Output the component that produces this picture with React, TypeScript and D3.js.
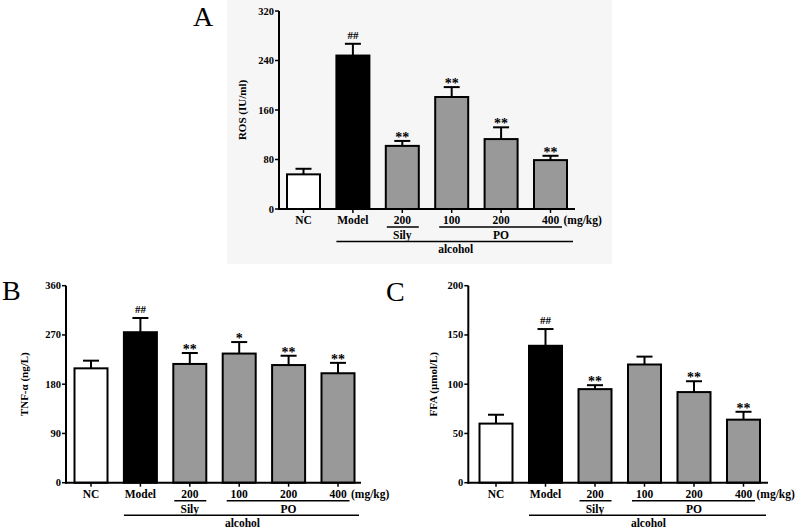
import React from "react";
import * as d3 from "d3";

const categories = ["NC", "Model", "200", "100", "200", "400"];
const fills = ["#ffffff", "#000000", "#999999", "#999999", "#999999", "#999999"];

const rosMean = [56, 248, 102, 181, 113, 79];
const rosErr = [9, 19, 8, 16, 19, 7];
const rosSig = ["", "##", "**", "**", "**", "**"];
const rosTicks = [0, 80, 160, 240, 320];

const tnfMean = [209, 275, 217, 236, 215, 200];
const tnfErr = [14, 26, 20, 21, 17, 19];
const tnfSig = ["", "##", "**", "*", "**", "**"];
const tnfTicks = [0, 90, 180, 270, 360];

const ffaMean = [60, 139, 95, 120, 92, 64];
const ffaErr = [9, 17, 4, 8, 11, 8];
const ffaSig = ["", "##", "**", "", "**", "**"];
const ffaTicks = [0, 50, 100, 150, 200];

const FONT = "'Liberation Serif', 'Times New Roman', serif";

type PanelProps = {
  letter: string;
  letterX: number;
  letterY: number;
  title: string;
  mean: number[];
  err: number[];
  sig: string[];
  ticks: number[];
  axisX: number;
  top: number;
  bottom: number;
  c0: number;
  c1: number;
  xEnd: number;
  titleOffset: number;
};

function Panel(p: PanelProps) {
  const y = d3.scaleLinear().domain([0, p.ticks[p.ticks.length - 1]]).range([p.bottom, p.top]);
  const x = d3.scalePoint<number>().domain(d3.range(categories.length)).range([p.c0, p.c1]);
  const bw = 33;
  const b = p.bottom;
  const cx = (i: number) => x(i) as number;
  const midY = (p.top + p.bottom) / 2;
  return (
    <g fontFamily={FONT}>
      <text x={p.letterX} y={p.letterY} fontSize={28} fill="#000">{p.letter}</text>
      {p.mean.map((m, i) => (
        <g key={i}>
          <line x1={cx(i)} x2={cx(i)} y1={y(m)} y2={y(m + p.err[i])} stroke="#000" strokeWidth={2} />
          <line x1={cx(i) - 8} x2={cx(i) + 8} y1={y(m + p.err[i])} y2={y(m + p.err[i])} stroke="#000" strokeWidth={2} />
          <rect x={cx(i) - bw / 2} y={y(m)} width={bw} height={b - y(m)} fill={fills[i]} stroke="#000" strokeWidth={2} />
          {p.sig[i] && (
            p.sig[i] === "##" ? (
              <text x={cx(i)} y={y(m + p.err[i]) - 5} textAnchor="middle" fontSize={11} fontWeight="bold">{p.sig[i]}</text>
            ) : (
              <text x={cx(i)} y={y(m + p.err[i]) + 1} textAnchor="middle" fontSize={14} fontWeight="bold">{p.sig[i]}</text>
            )
          )}
        </g>
      ))}
      <line x1={p.axisX} x2={p.axisX} y1={p.top} y2={b + 1} stroke="#000" strokeWidth={2} />
      {p.ticks.map((t) => (
        <g key={t}>
          <line x1={p.axisX - 4} x2={p.axisX} y1={y(t)} y2={y(t)} stroke="#000" strokeWidth={1.5} />
          <text x={p.axisX - 5} y={y(t) + 3.5} textAnchor="end" fontSize={10.5} fontWeight="bold">{t}</text>
        </g>
      ))}
      <text transform={`translate(${p.axisX + p.titleOffset},${midY}) rotate(-90)`} textAnchor="middle" fontSize={11} fontWeight="bold">{p.title}</text>
      <line x1={p.axisX - 1} x2={p.xEnd} y1={b} y2={b} stroke="#000" strokeWidth={2} />
      {categories.map((c, i) => (
        <g key={i}>
          <line x1={cx(i)} x2={cx(i)} y1={b} y2={b + 4} stroke="#000" strokeWidth={1.5} />
          <text x={cx(i)} y={b + 15} textAnchor="middle" fontSize={11.5} fontWeight="bold">{c}</text>
        </g>
      ))}
      <text x={cx(5) + 13} y={b + 15} fontSize={11.5} fontWeight="bold">(mg/kg)</text>
      <line x1={cx(2) - bw / 2 + 1} x2={cx(2) + bw / 2} y1={b + 18} y2={b + 18} stroke="#000" strokeWidth={1.5} />
      <text x={cx(2)} y={b + 30} textAnchor="middle" fontSize={11.5} fontWeight="bold">Sily</text>
      <line x1={cx(3) - bw / 2 + 4} x2={cx(5) + bw / 2 - 5} y1={b + 18} y2={b + 18} stroke="#000" strokeWidth={1.5} />
      <text x={(cx(3) + cx(5)) / 2} y={b + 30} textAnchor="middle" fontSize={11.5} fontWeight="bold">PO</text>
      <line x1={cx(1) - bw / 2} x2={p.xEnd - 2} y1={b + 32.5} y2={b + 32.5} stroke="#000" strokeWidth={1.5} />
      <text x={(cx(1) - bw / 2 + p.xEnd) / 2} y={b + 44} textAnchor="middle" fontSize={11.5} fontWeight="bold">alcohol</text>
    </g>
  );
}

export default function App() {
  return (
    <svg width={798} height={532} style={{ position: "absolute", left: 0, top: 0, background: "#fff" }}>
      <rect x={0} y={0} width={798} height={532} fill="#fff" />
      <rect x={227} y={0} width={385} height={264} fill="#f6f6f6" />
      <Panel letter="A" letterX={193} letterY={26} title="ROS (IU/ml)" mean={rosMean} err={rosErr} sig={rosSig} ticks={rosTicks}
        axisX={279} top={11} bottom={209} c0={303.5} c1={550.5} xEnd={575} titleOffset={-33} />
      <Panel letter="B" letterX={2} letterY={300} title="TNF-α  (ng/L)" mean={tnfMean} err={tnfErr} sig={tnfSig} ticks={tnfTicks}
        axisX={66} top={285.7} bottom={482.7} c0={91} c1={338} xEnd={361} titleOffset={-38} />
      <Panel letter="C" letterX={386} letterY={301} title="FFA (μmol/L)" mean={ffaMean} err={ffaErr} sig={ffaSig} ticks={ffaTicks}
        axisX={468.3} top={285.7} bottom={482.7} c0={496} c1={743.5} xEnd={768} titleOffset={-31} />
    </svg>
  );
}
